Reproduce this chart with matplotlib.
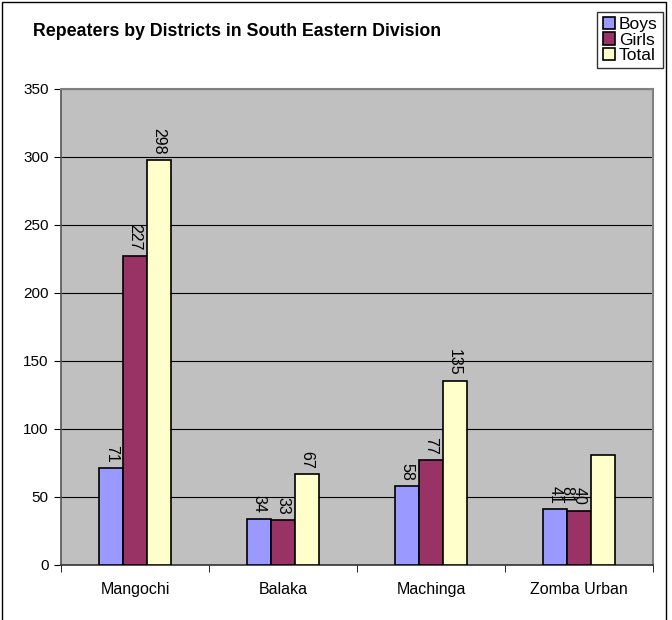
import matplotlib.pyplot as plt
import numpy as np
from matplotlib.patches import Rectangle

plt.rcParams['font.family'] = ['Liberation Sans', 'DejaVu Sans']

# Données
districts = ["Mangochi", "Balaka", "Machinga", "Zomba Urban"]
boys = [71, 34, 58, 41]
girls = [227, 33, 77, 40]
total = [298, 67, 135, 81]
series_names = ["Boys", "Girls", "Total"]
series_colors = ["#9999FF", "#993366", "#FFFFCC"]

fig = plt.figure(figsize=(6.72, 6.2), dpi=100)
# Cadre extérieur du graphique
fig.patches.append(Rectangle((2 / 672, -0.01), 664 / 672, 1.0 - 2 / 620 + 0.01,
                             transform=fig.transFigure, fill=False,
                             edgecolor="black", linewidth=1.0))

ax = fig.add_axes([61 / 672, 1 - 565 / 620, 592 / 672, 476 / 620])
ax.set_facecolor("#C0C0C0")

x = np.arange(len(districts))
w = 0.16
all_series = [boys, girls, total]
for i, (vals, name, col) in enumerate(zip(all_series, series_names, series_colors)):
    pos = x + (i - 1) * w
    ax.bar(pos, vals, width=w, color=col, edgecolor="black", linewidth=1.2,
           label=name, zorder=3)
    for j, (px, v) in enumerate(zip(pos, vals)):
        tx, ty = px, v
        # Excel a décalé l'étiquette du total pour Zomba Urban
        if j == 3 and i == 2:
            tx, ty = x[j] - 0.08, 41
        ax.annotate(str(v), (tx, ty), xytext=(0, 4), textcoords="offset points",
                    rotation=270, ha="center", va="bottom", fontsize=11.5, zorder=4)

ax.set_xlim(-0.5, len(districts) - 0.5)
ax.set_ylim(0, 350)
ax.set_yticks(range(0, 351, 50))
ax.yaxis.grid(True, color="black", linewidth=0.8, zorder=1)
ax.set_axisbelow(True)

ax.set_xticks(x)
ax.set_xticklabels(districts, fontsize=11.5)
ax.set_xticks(np.arange(-0.5, len(districts)), minor=True)
ax.tick_params(axis="x", which="major", length=0, pad=12)
ax.tick_params(axis="x", which="minor", length=5, direction="out")
ax.tick_params(axis="y", length=5, direction="out", labelsize=11, pad=4)

for s in ["top", "right"]:
    ax.spines[s].set_color("#808080")
    ax.spines[s].set_linewidth(1.5)
ax.spines["left"].set_color("#555555")
ax.spines["left"].set_linewidth(1.2)
ax.spines["bottom"].set_color("#333333")
ax.spines["bottom"].set_linewidth(1.2)

fig.text(33 / 672, 1 - 31 / 620, "Repeaters by Districts in South Eastern Division",
         fontsize=12.8, fontweight="bold", va="center", ha="left")

leg = fig.legend(loc="upper right", bbox_to_anchor=(663 / 672, 1 - 12 / 620),
                 fontsize=12.5, frameon=True, fancybox=False, edgecolor="black",
                 handlelength=0.7, handleheight=0.7, handletextpad=0.25,
                 borderpad=0.3, labelspacing=0.0, borderaxespad=0)
leg.get_frame().set_linewidth(1.0)

fig.savefig("out.png", dpi=100)
